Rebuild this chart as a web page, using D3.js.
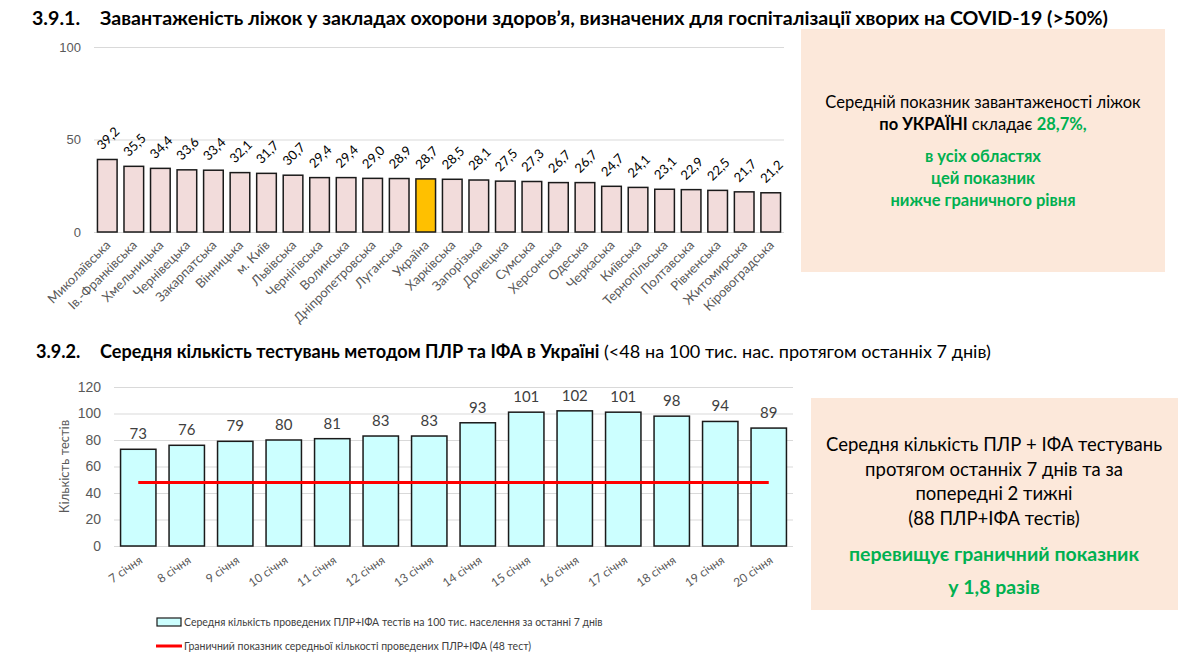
<!DOCTYPE html>
<html>
<head>
<meta charset="utf-8">
<script src="https://cdn.jsdelivr.net/npm/d3@7"></script>
<style>
  body { margin: 0; background: #fff; }
  svg { display: block; font-family: Lato, "Open Sans", sans-serif; }
</style>
</head>
<body>
<svg id="chart" width="1189" height="662"></svg>
<script>
// --- data: bed occupancy by region (%)
const regions = ["Миколаївська", "Ів.-Франківська", "Хмельницька", "Чернівецька", "Закарпатська",
  "Вінницька", "м. Київ", "Львівська", "Чернігівська", "Волинська", "Дніпропетровська", "Луганська",
  "Україна", "Харківська", "Запорізька", "Донецька", "Сумська", "Херсонська", "Одеська", "Черкаська",
  "Київська", "Тернопільська", "Полтавська", "Рівненська", "Житомирська", "Кіровоградська"];
const occupancy = [39.2, 35.5, 34.4, 33.6, 33.4, 32.1, 31.7, 30.7, 29.4, 29.4, 29.0, 28.9,
  28.7, 28.5, 28.1, 27.5, 27.3, 26.7, 26.7, 24.7, 24.1, 23.1, 22.9, 22.5, 21.7, 21.2];
const occTicks = [0, 50, 100];

// --- data: PCR + ELISA tests per 100k, last 7 days
const days = ["7 січня", "8 січня", "9 січня", "10 січня", "11 січня", "12 січня", "13 січня",
  "14 січня", "15 січня", "16 січня", "17 січня", "18 січня", "19 січня", "20 січня"];
const tests = [73, 76, 79, 80, 81, 83, 83, 93, 101, 102, 101, 98, 94, 89];
const threshold = 48;
const testTicks = [0, 20, 40, 60, 80, 100, 120];

const svg = d3.select("#chart");
const uaFmt = d3.formatLocale({ decimal: ",", thousands: " ", grouping: [3], currency: ["", ""] }).format(".1f");

// ---------- titles
const t1 = svg.append("text").attr("x", 32).attr("y", 25)
  .attr("font-size", 19.6).attr("font-weight", "bold").attr("fill", "#000");
t1.append("tspan").text("3.9.1.");
t1.append("tspan").attr("x", 100).text("Завантаженість ліжок у закладах охорони здоров’я, визначених для госпіталізації хворих на COVID-19 (>50%)");

const t2 = svg.append("text").attr("x", 36).attr("y", 358)
  .attr("font-size", 18.1).attr("fill", "#000");
t2.append("tspan").attr("font-weight", "bold").text("3.9.2.");
t2.append("tspan").attr("x", 100).attr("font-weight", "bold").text("Середня кількість тестувань методом ПЛР та ІФА в Україні");
t2.append("tspan").text(" (<48 на 100 тис. нас. протягом останніх 7 днів)");

// ---------- chart 1
const x1 = d3.scaleBand().domain(regions).range([94, 784]).paddingInner(0.26).paddingOuter(0.13);
const y1 = d3.scaleLinear().domain([0, 100]).range([232, 47]);

const g1 = svg.append("g");
g1.append("g")
  .attr("transform", "translate(94,0)")
  .call(d3.axisLeft(y1).tickValues(occTicks).tickSize(-690).tickPadding(13))
  .call(g => g.select(".domain").remove())
  .call(g => g.selectAll(".tick line").attr("stroke", "#d9d9d9"))
  .call(g => g.selectAll(".tick text").attr("fill", "#595959").attr("font-size", 13));

g1.selectAll("rect.bar").data(occupancy).join("rect")
  .attr("class", "bar")
  .attr("x", (d, i) => x1(regions[i]))
  .attr("y", d => y1(d))
  .attr("width", x1.bandwidth())
  .attr("height", d => y1(0) - y1(d))
  .attr("fill", (d, i) => regions[i] === "Україна" ? "#ffc000" : "#f2dcdb")
  .attr("stroke", "#1a1a1a").attr("stroke-width", 1.5);

g1.selectAll("text.val").data(occupancy).join("text")
  .attr("class", "val")
  .attr("transform", (d, i) => `translate(${x1(regions[i]) + x1.bandwidth() / 2 + 4},${y1(d) - 18}) rotate(-45)`)
  .attr("text-anchor", "middle")
  .attr("font-size", 13).attr("fill", "#000")
  .text(d => uaFmt(d));

g1.selectAll("text.cat").data(regions).join("text")
  .attr("class", "cat")
  .attr("transform", d => `translate(${x1(d) + x1.bandwidth() / 2 + 4},${y1(0) + 14}) rotate(-45)`)
  .attr("text-anchor", "end")
  .attr("font-size", 13).attr("fill", "#595959")
  .text(d => d);

// note box 1
svg.append("rect").attr("x", 801).attr("y", 29).attr("width", 364).attr("height", 243).attr("fill", "#fce8da");
const n1 = svg.append("g").attr("text-anchor", "middle").attr("font-size", 16.5);
n1.append("text").attr("x", 983).attr("y", 108).text("Середній показник завантаженості ліжок");
const n1b = n1.append("text").attr("x", 983).attr("y", 130);
n1b.append("tspan").attr("font-weight", "bold").text("по УКРАЇНІ");
n1b.append("tspan").text(" складає ");
n1b.append("tspan").attr("font-weight", "bold").attr("fill", "#00b050").text("28,7%,");
["в усіх областях", "цей показник", "нижче граничного рівня"].forEach((s, i) => {
  n1.append("text").attr("x", 983).attr("y", 162 + i * 22)
    .attr("font-weight", "bold").attr("fill", "#00b050").text(s);
});

// ---------- chart 2
const x2 = d3.scaleBand().domain(days).range([114, 793]).paddingInner(0.27).paddingOuter(0.135);
const y2 = d3.scaleLinear().domain([0, 120]).range([546, 387]);

const g2 = svg.append("g");
g2.append("g")
  .attr("transform", "translate(114,0)")
  .call(d3.axisLeft(y2).tickValues(testTicks).tickSize(-679).tickPadding(13))
  .call(g => g.select(".domain").remove())
  .call(g => g.selectAll(".tick line").attr("stroke", "#d9d9d9"))
  .call(g => g.selectAll(".tick text").attr("fill", "#595959").attr("font-size", 14));

g2.append("text")
  .attr("transform", `translate(69,${(y2(0) + y2(120)) / 2}) rotate(-90)`)
  .attr("text-anchor", "middle").attr("font-size", 13).attr("fill", "#595959")
  .text("Кількість тестів");

g2.selectAll("rect.bar").data(tests).join("rect")
  .attr("class", "bar")
  .attr("x", (d, i) => x2(days[i]))
  .attr("y", d => y2(d))
  .attr("width", x2.bandwidth())
  .attr("height", d => y2(0) - y2(d))
  .attr("fill", "#ccffff")
  .attr("stroke", "#1a1a1a").attr("stroke-width", 1.5);

g2.selectAll("text.val").data(tests).join("text")
  .attr("class", "val")
  .attr("x", (d, i) => x2(days[i]) + x2.bandwidth() / 2)
  .attr("y", d => y2(d) - 10)
  .attr("text-anchor", "middle").attr("font-size", 15).attr("fill", "#404040")
  .text(d => d);

g2.append("path")
  .attr("d", d3.line()(days.map(d => [x2(d) + x2.bandwidth() / 2, y2(threshold)])))
  .attr("stroke", "#ff0000").attr("stroke-width", 3).attr("fill", "none");

g2.selectAll("text.cat").data(days).join("text")
  .attr("class", "cat")
  .attr("transform", d => `translate(${x2(d) + x2.bandwidth() / 2 + 5},${y2(0) + 16}) rotate(-35)`)
  .attr("text-anchor", "end")
  .attr("font-size", 12).attr("fill", "#595959")
  .text(d => d);

// legend
const lg = svg.append("g").attr("font-size", 10.5).attr("fill", "#404040");
lg.append("rect").attr("x", 157).attr("y", 618).attr("width", 24).attr("height", 8)
  .attr("fill", "#ccffff").attr("stroke", "#1a1a1a").attr("stroke-width", 1.2);
lg.append("text").attr("x", 184).attr("y", 626).text("Середня кількість проведених ПЛР+ІФА тестів на 100 тис. населення за останні 7 днів");
lg.append("line").attr("x1", 156).attr("x2", 182).attr("y1", 646).attr("y2", 646)
  .attr("stroke", "#ff0000").attr("stroke-width", 3);
lg.append("text").attr("x", 184).attr("y", 650).text("Граничний показник середньої кількості проведених ПЛР+ІФА (48 тест)");

// note box 2
svg.append("rect").attr("x", 811).attr("y", 398).attr("width", 367).attr("height", 212).attr("fill", "#fce8da");
const n2 = svg.append("g").attr("text-anchor", "middle").attr("font-size", 18.5);
["Середня кількість ПЛР + ІФА тестувань", "протягом останніх 7 днів та за", "попередні 2 тижні", "(88 ПЛР+ІФА тестів)"]
  .forEach((s, i) => n2.append("text").attr("x", 994).attr("y", 451 + i * 24.5).text(s));
n2.append("text").attr("x", 994).attr("y", 561).attr("font-size", 19.5).attr("font-weight", "bold")
  .attr("fill", "#00b050").text("перевищує граничний показник");
n2.append("text").attr("x", 994).attr("y", 594).attr("font-size", 19.5).attr("font-weight", "bold")
  .attr("fill", "#00b050").text("у 1,8 разів");
</script>
</body>
</html>
